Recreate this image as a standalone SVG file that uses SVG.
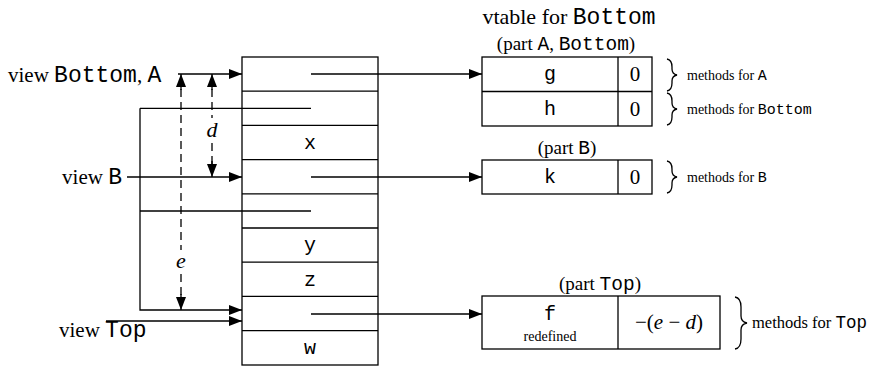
<svg xmlns="http://www.w3.org/2000/svg" width="875" height="367" viewBox="0 0 875 367">
<defs>
<marker id="ah" viewBox="0 0 13 10" refX="13" refY="5" markerWidth="13" markerHeight="10" markerUnits="userSpaceOnUse" orient="auto">
<path d="M0,0 L13,5 L0,10 Z" fill="#000"/>
</marker>
</defs>
<style>
.box{fill:#fff;stroke:#000;stroke-width:1.3}
.ln{fill:none;stroke:#000;stroke-width:1.3}
.dash{fill:none;stroke:#000;stroke-width:1.3;stroke-dasharray:8,5}
.serif{font-family:"Liberation Serif","Times New Roman",serif;fill:#000}
.mono{font-family:"Liberation Mono","Courier New",monospace;fill:#000}
</style>
<g id="object">
<rect class="box" x="242" y="57" width="136" height="308"/>
<path class="ln" d="M242,91.2H378M242,125.4H378M242,159.6H378M242,193.8H378M242,228H378M242,262.2H378M242,296.4H378M242,330.6H378"/>
<text class="mono" font-size="20" x="310" y="149" text-anchor="middle">x</text>
<text class="mono" font-size="20" x="310" y="251" text-anchor="middle">y</text>
<text class="mono" font-size="20" x="310" y="286" text-anchor="middle">z</text>
<text class="mono" font-size="20" x="310" y="354" text-anchor="middle">w</text>
</g>
<g id="vtable-title">
<text class="serif" font-size="22" x="569" y="24" text-anchor="middle">vtable for <tspan class="mono" font-size="23">Bottom</tspan></text>
</g>
<g id="vtable-A">
<text class="serif" font-size="19" x="566" y="50" text-anchor="middle">(part <tspan class="mono" font-size="19.5">A</tspan>, <tspan class="mono" font-size="19.5">Bottom</tspan>)</text>
<rect class="box" x="482" y="57" width="170" height="69"/>
<path class="ln" d="M482,91.5H652M618,57V126"/>
<text class="mono" font-size="20" x="550" y="80" text-anchor="middle">g</text>
<text class="mono" font-size="20" x="550" y="115" text-anchor="middle">h</text>
<text class="serif" font-size="21" x="635" y="81" text-anchor="middle">0</text>
<text class="serif" font-size="21" x="635" y="116" text-anchor="middle">0</text>
<path class="ln" stroke-width="1" d="M667,59 Q672,60 672,67 L672,69 Q672,74 677,75 Q672,76 672,81 L672,83 Q672,90 667,91"/>
<path class="ln" stroke-width="1" d="M667,93 Q672,94 672,101 L672,103 Q672,108 677,109 Q672,110 672,115 L672,117 Q672,124 667,125"/>
<text class="serif" font-size="14" x="687" y="80">methods for <tspan class="mono" font-size="15">A</tspan></text>
<text class="serif" font-size="14" x="687" y="114">methods for <tspan class="mono" font-size="15">Bottom</tspan></text>
</g>
<g id="vtable-B">
<text class="serif" font-size="19" x="567" y="154" text-anchor="middle">(part <tspan class="mono" font-size="19.5">B</tspan>)</text>
<rect class="box" x="482" y="160" width="170" height="34"/>
<path class="ln" d="M618,160V194"/>
<text class="mono" font-size="20" x="550" y="183" text-anchor="middle">k</text>
<text class="serif" font-size="21" x="635" y="184" text-anchor="middle">0</text>
<path class="ln" stroke-width="1" d="M667,161 Q672,162 672,169 L672,171 Q672,176 677,177 Q672,178 672,183 L672,185 Q672,192 667,193"/>
<text class="serif" font-size="14" x="687" y="182">methods for <tspan class="mono" font-size="15">B</tspan></text>
</g>
<g id="vtable-Top">
<text class="serif" font-size="19" x="600" y="290" text-anchor="middle">(part <tspan class="mono" font-size="19.5">Top</tspan>)</text>
<rect class="box" x="482" y="296" width="238" height="53"/>
<path class="ln" d="M618,296V349"/>
<text class="mono" font-size="20" x="550" y="320" text-anchor="middle">f</text>
<text class="serif" font-size="14" x="550" y="341" text-anchor="middle">redefined</text>
<text class="serif" font-size="21" x="669" y="329" text-anchor="middle">−(<tspan font-style="italic">e</tspan> − <tspan font-style="italic">d</tspan>)</text>
<path class="ln" stroke-width="1" d="M735,297 Q741,298 741,307 L741,316 Q741,322 747,323 Q741,324 741,330 L741,339 Q741,348 735,349"/>
<text class="serif" font-size="16.5" x="752" y="328">methods for <tspan class="mono" font-size="17.5">Top</tspan></text>
</g>
<g id="views">
<text class="serif" font-size="21" x="8" y="82">view <tspan class="mono" font-size="23">Bottom</tspan>, <tspan class="mono" font-size="23">A</tspan></text>
<text class="serif" font-size="21" x="122" y="184" text-anchor="end">view <tspan class="mono" font-size="23">B</tspan></text>
<text class="serif" font-size="21" x="59" y="337">view <tspan class="mono" font-size="23">Top</tspan></text>
<text class="serif" font-size="22" font-style="italic" x="212" y="137" text-anchor="middle">d</text>
<text class="serif" font-size="22" font-style="italic" x="181" y="268" text-anchor="middle">e</text>
</g>
<g id="connectors">
<path class="ln" d="M178,74H242" marker-end="url(#ah)"/>
<path class="ln" d="M311,74H482" marker-end="url(#ah)"/>
<path class="ln" d="M140,108.3H311"/>
<path class="ln" d="M127,177H242" marker-end="url(#ah)"/>
<path class="ln" d="M311,177H482" marker-end="url(#ah)"/>
<path class="ln" d="M140,211H311"/>
<path class="ln" d="M140,108.3V310H242" marker-end="url(#ah)"/>
<path class="ln" d="M106,321H242" marker-end="url(#ah)"/>
<path class="ln" d="M311,314H482" marker-end="url(#ah)"/>
<path class="dash" d="M181,89V250M181,274V297"/>
<path class="ln" stroke="none" d="M181,90V74" marker-end="url(#ah)"/>
<path class="ln" stroke="none" d="M181,294V310" marker-end="url(#ah)"/>
<path class="dash" d="M212,89V118M212,143V164"/>
<path class="ln" stroke="none" d="M212,90V74" marker-end="url(#ah)"/>
<path class="ln" stroke="none" d="M212,161V177" marker-end="url(#ah)"/>
</g>
</svg>
